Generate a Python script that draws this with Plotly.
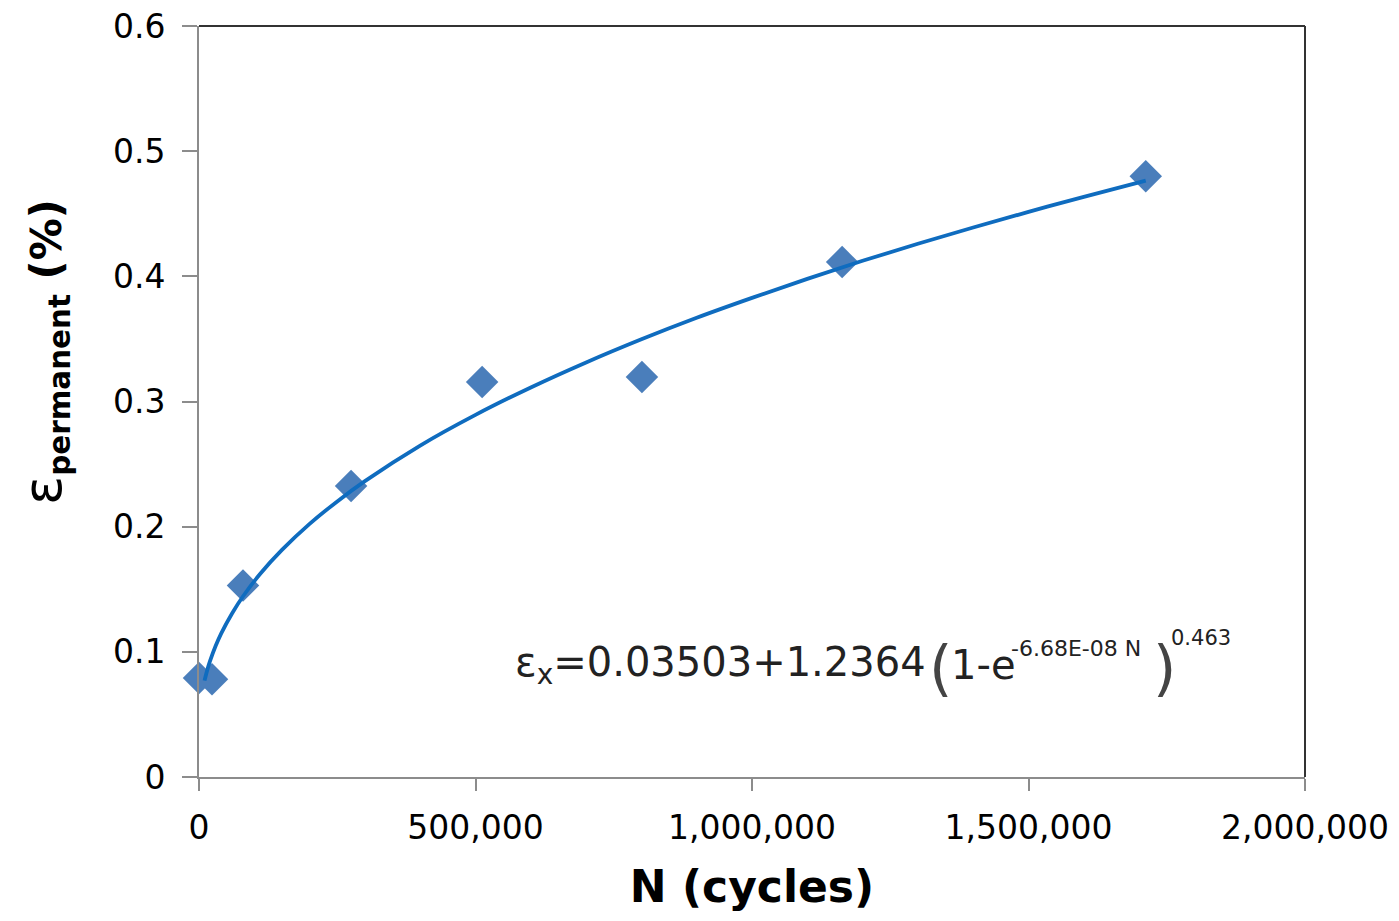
import plotly.graph_objects as go

# Measured data points
n_cycles = [0, 23500, 79600, 275000, 512000, 801000, 1163000, 1712000]
eps_perm = [0.079, 0.078, 0.153, 0.2325, 0.3156, 0.3196, 0.4114, 0.480]

# Fitted curve points
fit_n = [10000, 15000, 20000, 30000, 40000, 60000, 80000, 110000, 150000, 200000,
         250000, 300000, 400000, 500000, 600000, 700000, 800000, 900000, 1000000,
         1100000, 1200000, 1300000, 1400000, 1500000, 1600000, 1712000]
fit_eps = [0.077, 0.0856, 0.0927, 0.1046, 0.1146, 0.1309, 0.1446, 0.1620, 0.1814, 0.2022,
           0.2202, 0.2364, 0.2648, 0.2893, 0.3112, 0.3312, 0.3497, 0.3669, 0.3828,
           0.3980, 0.4124, 0.4260, 0.4390, 0.4515, 0.4635, 0.4765]

x_ticks = [0, 500000, 1000000, 1500000, 2000000]
x_tick_labels = ["0", "500,000", "1,000,000", "1,500,000", "2,000,000"]
y_ticks = [0, 0.1, 0.2, 0.3, 0.4, 0.5, 0.6]
y_tick_labels = ["0", "0.1", "0.2", "0.3", "0.4", "0.5", "0.6"]

FONT = "DejaVu Sans"

# plot area in screen pixels (page body adds an 8px offset)
L, R, T, B = 198, 1304, 26, 777
OX, OY = 7, 8


def px(x):
    return (x - L) / (R - L)


def py(y):
    return (B - y) / (B - T)


fig = go.Figure()
fig.add_trace(go.Scatter(
    x=n_cycles, y=eps_perm, mode="markers",
    marker=dict(symbol="diamond", size=25, color="#4a7ebb", line=dict(width=0)),
    showlegend=False, cliponaxis=False))
fig.add_trace(go.Scatter(
    x=fit_n, y=fit_eps, mode="lines",
    line=dict(color="#0f6cbf", width=3.8, shape="spline"),
    showlegend=False))

fig.update_layout(
    width=1399, height=921, autosize=False,
    margin=dict(l=L - OX, r=1399 - R + OX, t=T - OY, b=921 - B + OY),
    plot_bgcolor="white", paper_bgcolor="white",
    font=dict(family=FONT, color="black"),
    xaxis=dict(range=[0, 2000000], tickvals=x_ticks, ticktext=x_tick_labels,
               automargin=False,
               showgrid=False, zeroline=False, showline=True, linecolor="#8c8c8c",
               linewidth=2, ticks="outside", ticklen=12, tickcolor="#8c8c8c", tickwidth=2,
               tickfont=dict(size=33, family=FONT, color="black"), ticklabelstandoff=8,
               ticklabeloverflow="allow",
               title=dict(text="<b>N (cycles)</b>", font=dict(size=44, family=FONT), standoff=26)),
    yaxis=dict(range=[0, 0.6], tickvals=y_ticks, ticktext=y_tick_labels,
               automargin=False,
               showgrid=False, zeroline=False, showline=True, linecolor="#8c8c8c",
               linewidth=2, ticks="outside", ticklen=15, tickcolor="#8c8c8c", tickwidth=2,
               tickfont=dict(size=33, family=FONT, color="black"), ticklabelstandoff=10,
               ticklabeloverflow="allow"),
)

# top and right border
fig.add_shape(type="line", xref="paper", yref="paper", x0=0, x1=1, y0=1, y1=1,
              line=dict(color="#333333", width=2))
fig.add_shape(type="line", xref="paper", yref="paper", x0=1, x1=1, y0=0, y1=1,
              line=dict(color="#333333", width=2))

# y-axis title
fig.add_annotation(xref="paper", yref="paper", x=px(43), y=py(352), showarrow=False,
                   textangle=-90, xanchor="center", yanchor="middle",
                   text="<span style='font-size:54px'>ε</span><b><sub>permanent</sub> (%)</b>",
                   font=dict(size=42, family=FONT, color="black"))

# equation
EQ = "#222222"
fig.add_annotation(xref="paper", yref="paper", x=px(512), y=py(665), showarrow=False,
                   xanchor="left", yanchor="middle",
                   text="ε<sub>x</sub>=0.03503+1.2364",
                   font=dict(size=40, family=FONT, color=EQ))
fig.add_annotation(xref="paper", yref="paper", x=px(926), y=py(668), showarrow=False,
                   xanchor="left", yanchor="middle", text="(",
                   font=dict(size=60, family=FONT, color="#444444"))
fig.add_annotation(xref="paper", yref="paper", x=px(948), y=py(665), showarrow=False,
                   xanchor="left", yanchor="middle", text="1-e",
                   font=dict(size=40, family=FONT, color=EQ))
fig.add_annotation(xref="paper", yref="paper", x=px(1008), y=py(648), showarrow=False,
                   xanchor="left", yanchor="middle", text="-6.68E-08 N",
                   font=dict(size=22, family=FONT, color=EQ))
fig.add_annotation(xref="paper", yref="paper", x=px(1150), y=py(668), showarrow=False,
                   xanchor="left", yanchor="middle", text=")",
                   font=dict(size=60, family=FONT, color="#444444"))
fig.add_annotation(xref="paper", yref="paper", x=px(1168), y=py(638), showarrow=False,
                   xanchor="left", yanchor="middle", text="0.463",
                   font=dict(size=21, family=FONT, color=EQ))

fig.write_html("out.html")
